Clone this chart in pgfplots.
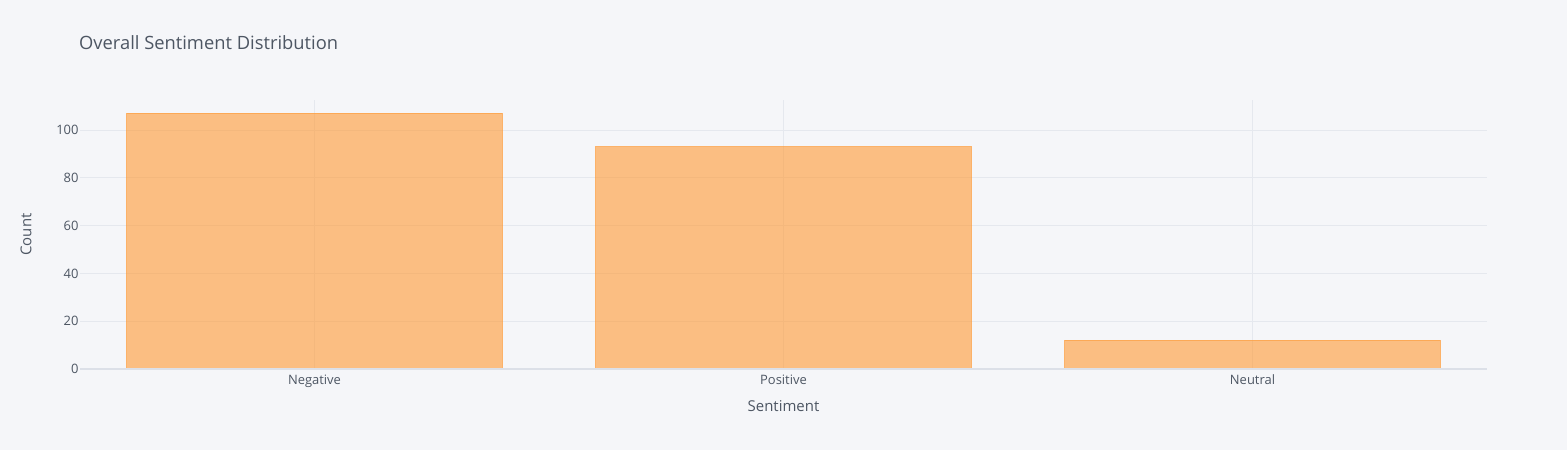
\documentclass[border=0pt]{standalone}
\usepackage{pgfplots}
\pgfplotsset{compat=1.18}
\usepackage{fontspec}
\setmainfont{Open Sans}
\definecolor{bg}{HTML}{F5F6F9}
\definecolor{txt}{HTML}{4D5663}
\definecolor{grd}{HTML}{E5E8EE}
\definecolor{zl}{HTML}{DCE0E8}
\definecolor{bar}{HTML}{FF9933}
\begin{document}
\begin{tikzpicture}[x=1bp,y=1bp]
\fill[bg] (0,0) rectangle (1567,450);
\begin{axis}[
  at={(80bp,81bp)}, anchor=south west,
  scale only axis, width=1407bp, height=269bp,
  xmin=-0.5, xmax=2.5, ymin=0, ymax=112.6,
  axis line style={draw=none},
  xtick={0,1,2}, xticklabels={Negative,Positive,Neutral},
  ytick={0,20,40,60,80,100},
  grid=major, major grid style={grd, line width=0.9bp},
  tick style={draw=none},
  tick label style={font=\fontsize{13}{15}\selectfont, text=txt},
  /pgf/number format/assume math mode=true,
  xticklabel style={yshift=2bp},
  yticklabel style={xshift=2bp},
  xlabel={Sentiment}, ylabel={Count},
  label style={font=\fontsize{15}{17}\selectfont, text=txt},
  xlabel style={at={(axis description cs:0.5,-0.1375)}, anchor=center},
  ylabel style={at={(axis description cs:-0.0384,0.5)}, anchor=center},
  ybar, bar width=0.8,
  clip=false,
]
\addplot[fill=bar, fill opacity=0.6, draw=bar, draw opacity=0.7, line width=1bp]
  coordinates {(0,107) (1,93) (2,12)};
\draw[zl, line width=2bp] (axis cs:-0.5,0) -- (axis cs:2.5,0);
\end{axis}
\node[anchor=base west, text=txt, font=\fontsize{18.4}{21}\selectfont, inner xsep=0pt] at (79,400) {Overall Sentiment Distribution};
\end{tikzpicture}
\end{document}
